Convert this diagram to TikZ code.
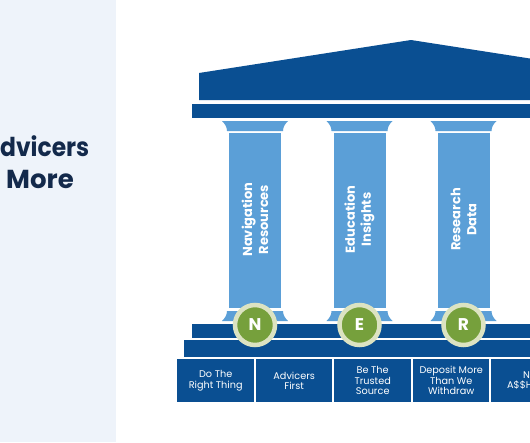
\documentclass[tikz,border=0pt]{standalone}
\usepackage{fontspec}
\setmainfont{Poppins}
\definecolor{navy}{HTML}{0A4F92}
\definecolor{colblue}{HTML}{5B9FD7}
\definecolor{leaf}{HTML}{76A03C}
\definecolor{ringc}{HTML}{DCE3C2}
\definecolor{panel}{HTML}{EEF3FA}
\definecolor{ink}{HTML}{13294B}
\begin{document}
\begin{tikzpicture}[x=1pt,y=-1pt,
  navyfill/.style={fill=navy,draw=none},
  colfill/.style={fill=colblue,draw=none},
  headline/.style={font=\fontsize{26}{30}\selectfont\bfseries,text=ink,inner sep=0pt},
  coltext/.style={font=\fontsize{13}{16}\selectfont\bfseries,text=white,align=center,rotate=90,inner sep=0pt},
  boxtext/.style={font=\fontsize{9.7}{10.5}\selectfont,text=white,align=center,inner sep=0pt},
  valuebox/.style={navyfill,minimum height=43pt,inner sep=0pt,anchor=north west},
  letter/.style={circle,fill=leaf,draw=ringc,line width=4.5pt,minimum size=40pt,inner sep=0pt,text=white,font=\fontsize{17}{17}\selectfont\bfseries}]
\useasboundingbox (0,0) rectangle (530,442);
\clip (0,0) rectangle (530,442);
\fill[white] (0,0) rectangle (530,442);
\fill[panel] (0,0) rectangle (116,442);
\node[headline,anchor=base west] (h1) at (0,156) {\scalebox{0.9}[1]{dvicers}};
\node[headline,anchor=base east] (h2) at (74,188) {More};
% roof
\fill[navy] (199,100) -- (199,73) -- (411,40) -- (623,73) -- (623,100) -- cycle;
\fill[navy] (192,104) rectangle (640,118);
% steps
\fill[navy] (192,324) rectangle (640,338);
\fill[navy] (184,340) rectangle (640,357);
% columns
\foreach \c/\nm/\lab/\txt in {255/n/N/{Navigation\\Resources},359.5/e/E/{Education\\Insights},463.5/r/R/{Research\\Data}}{
  \fill[colblue] (\c-33,121) -- (\c+33,121) .. controls (\c+30,124) and (\c+28,127) .. (\c+28,131) -- (\c-28,131) .. controls (\c-28,127) and (\c-30,124) .. (\c-33,121) -- cycle;
  \fill[colblue] (\c-26,133) rectangle (\c+26,308);
  \fill[colblue] (\c-28,311) -- (\c+28,311) .. controls (\c+28,315) and (\c+30,318) .. (\c+33,321) -- (\c-33,321) .. controls (\c-30,318) and (\c-28,315) .. (\c-28,311) -- cycle;
  \node[coltext] (t\nm) at (\c,219.5) {\txt};
  \node[letter] (c\nm) at (\c,325) {\lab};
}
% value boxes
\node[valuebox,minimum width=77pt] (b1) at (177,359) {};
\node[valuebox,minimum width=76pt] (b2) at (256,359) {};
\node[valuebox,minimum width=77pt] (b3) at (334,359) {};
\node[valuebox,minimum width=76pt] (b4) at (413,359) {};
\node[valuebox,minimum width=77pt] (b5) at (491,359) {};
\node[boxtext] (l1) at (b1.center) {Do The\\Right Thing};
\node[boxtext] (l2) at (b2.center) {Advicers\\First};
\node[boxtext] (l3) at (b3.center) {Be The\\Trusted\\Source};
\node[boxtext] (l4) at (b4.center) {Deposit More\\Than We\\Withdraw};
\node[boxtext] (l5) at (b5.center) {No\\A\$\$Holes};
\end{tikzpicture}
\end{document}
